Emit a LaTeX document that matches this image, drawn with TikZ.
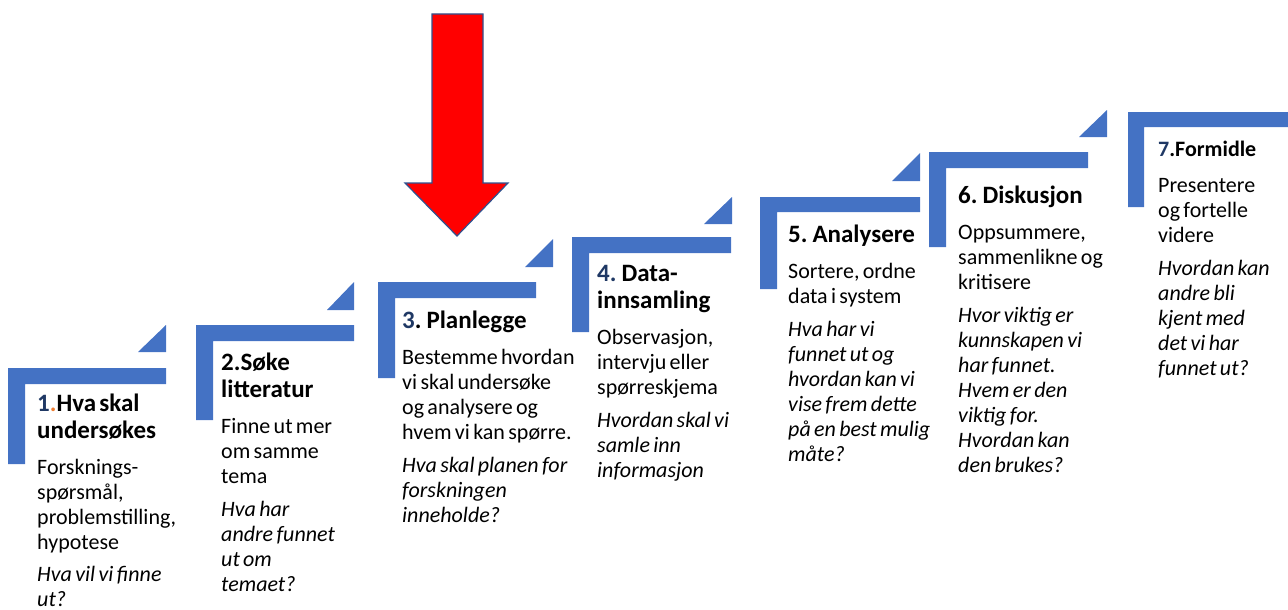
\documentclass[tikz,border=0pt]{standalone}
\usepackage{fontspec}
\setmainfont{Carlito}
\definecolor{stairblue}{HTML}{4472C4}
\definecolor{numblue}{HTML}{1F3864}
\definecolor{dotorange}{HTML}{ED7D31}
\definecolor{arrowedge}{HTML}{2F528F}
\newcommand{\headfont}{\fontsize{25}{27}\selectfont\bfseries}
\newcommand{\bodyfont}{\fontsize{22}{25}\selectfont}

\begin{document}
\begin{tikzpicture}[
  x=1pt, y=-1pt,
  stair/.style={fill=stairblue},
  steptext/.style={anchor=north west, inner sep=0pt, text width=210pt, align=left},
  bigarrow/.style={fill=red, draw=arrowedge, line width=1.2pt}
]
  \useasboundingbox (0,0) rectangle (1288,610);

  % trappetrinn
  \fill[stair] (8,368) -- (166,368) -- (166,384) -- (25,384) -- (25,464) -- (8,464) -- cycle;
  \fill[stair] (138,352) -- (166,352) -- (166,325) -- cycle;
  \fill[stair] (196,325) -- (354,325) -- (354,341) -- (213,341) -- (213,420) -- (196,420) -- cycle;
  \fill[stair] (327,310) -- (354,310) -- (354,282) -- cycle;
  \fill[stair] (378,282) -- (536,282) -- (536,298) -- (395,298) -- (395,378) -- (378,378) -- cycle;
  \fill[stair] (525,267) -- (553,267) -- (553,239) -- cycle;
  \fill[stair] (572,237) -- (731,237) -- (731,253) -- (589,253) -- (589,332) -- (572,332) -- cycle;
  \fill[stair] (704,224) -- (732,224) -- (732,197) -- cycle;
  \fill[stair] (760,197) -- (920,197) -- (920,212) -- (777,212) -- (777,289) -- (760,289) -- cycle;
  \fill[stair] (892,181) -- (920,181) -- (920,153) -- cycle;
  \fill[stair] (929,152) -- (1088,152) -- (1088,168) -- (946,168) -- (946,247) -- (929,247) -- cycle;
  \fill[stair] (1079,137) -- (1107,137) -- (1107,110) -- cycle;
  \fill[stair] (1128,112) -- (1288,112) -- (1288,127) -- (1144,127) -- (1144,207) -- (1128,207) -- cycle;

  % rød pil
  \draw[bigarrow] (432,14) -- (483,14) -- (483,183) -- (508,183) -- (457,236) -- (405,183) -- (432,183) -- cycle;

  \node[steptext] (hva) at (37,394) {%
    {\headfont\textcolor{numblue}{1}\textcolor{dotorange}{.}Hva skal\\undersøkes\par}\vspace{11pt}
    {\bodyfont Forsknings-\\spørsmål,\\problemstilling,\\hypotese\par}\vspace{7pt}
    {\bodyfont\itshape Hva vil vi finne\\ut?\par}};
  \node[steptext] (litteratur) at (221,353) {%
    {\headfont 2.Søke\\litteratur\par}\vspace{11pt}
    {\bodyfont Finne ut mer\\om samme\\tema\par}\vspace{8pt}
    {\bodyfont\itshape Hva har\\andre funnet\\ut om\\temaet?\par}};
  \node[steptext] (planlegge) at (402,311) {%
    {\headfont\textcolor{numblue}{3}. Planlegge\par}\vspace{11pt}
    {\bodyfont Bestemme hvordan\\vi skal undersøke\\og analysere og\\hvem vi kan spørre.\par}\vspace{8pt}
    {\bodyfont\itshape Hva skal planen for\\forskningen\\inneholde?\par}};
  \node[steptext] (innsamling) at (597,265) {%
    {\headfont\textcolor{numblue}{4.} Data-\\innsamling\par}\vspace{11pt}
    {\bodyfont Observasjon,\\intervju eller\\spørreskjema\par}\vspace{8pt}
    {\bodyfont\itshape Hvordan skal vi\\samle inn\\informasjon\par}};
  \node[steptext] (analysere) at (788,225) {%
    {\headfont 5. Analysere\par}\vspace{11pt}
    {\bodyfont Sortere, ordne\\data i system\par}\vspace{8pt}
    {\bodyfont\itshape Hva har vi\\funnet ut og\\hvordan kan vi\\vise frem dette\\på en best mulig\\måte?\par}};
  \node[steptext] (diskusjon) at (958,186) {%
    {\headfont 6. Diskusjon\par}\vspace{11pt}
    {\bodyfont Oppsummere,\\sammenlikne og\\kritisere\par}\vspace{8pt}
    {\bodyfont\itshape Hvor viktig er\\kunnskapen vi\\har funnet.\\Hvem er den\\viktig for.\\Hvordan kan\\den brukes?\par}};
  \node[steptext] (formidle) at (1158,141) {%
    {\fontsize{22}{24}\selectfont\bfseries\textcolor{numblue}{7}.Formidle\par}\vspace{11pt}
    {\bodyfont Presentere\\og fortelle\\videre\par}\vspace{8pt}
    {\bodyfont\itshape Hvordan kan\\andre bli\\kjent med\\det vi har\\funnet ut?\par}};
\end{tikzpicture}
\end{document}
